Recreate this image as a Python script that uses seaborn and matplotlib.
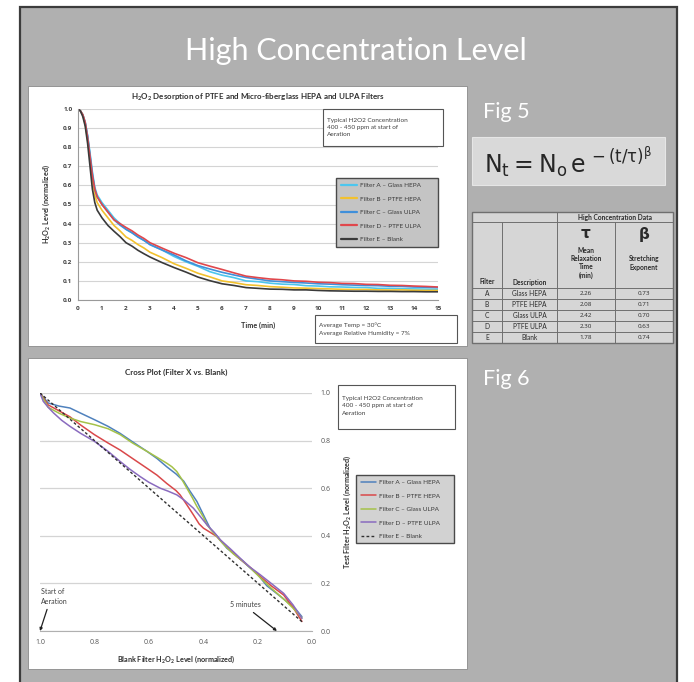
import numpy as np
import pandas as pd
import matplotlib
matplotlib.use("Agg")
import matplotlib.pyplot as plt
import seaborn as sns
from matplotlib.patches import Rectangle

# ---------------- data ----------------
time_min = [0, 0.1, 0.2, 0.3, 0.4, 0.5, 0.6, 0.7, 0.8, 0.9, 1.0, 1.25, 1.5, 1.75, 2.0, 2.25,
            2.5, 2.75, 3.0, 3.5, 4.0, 4.5, 5.0, 5.5, 6.0, 6.5, 7.0, 7.5, 8.0, 8.5, 9.0, 9.5,
            10, 10.5, 11, 11.5, 12, 12.5, 13, 13.5, 14, 14.5, 15]
filter_a = [1.0, 0.99, 0.97, 0.93, 0.86, 0.77, 0.67, 0.59, 0.55, 0.53, 0.51, 0.47, 0.43, 0.40, 0.37, 0.352,
            0.33, 0.312, 0.29, 0.262, 0.228, 0.20, 0.176, 0.148, 0.13, 0.117, 0.10, 0.096, 0.088, 0.083, 0.081, 0.075,
            0.073, 0.069, 0.068, 0.066, 0.065, 0.061, 0.061, 0.059, 0.058, 0.057, 0.056]
filter_b = [1.0, 0.99, 0.97, 0.92, 0.84, 0.74, 0.63, 0.55, 0.51, 0.49, 0.47, 0.43, 0.39, 0.362, 0.33, 0.312,
            0.29, 0.272, 0.25, 0.222, 0.19, 0.166, 0.14, 0.121, 0.10, 0.091, 0.08, 0.076, 0.07, 0.067, 0.063, 0.062,
            0.06, 0.058, 0.056, 0.055, 0.055, 0.053, 0.052, 0.053, 0.051, 0.05, 0.05]
filter_c = [1.0, 0.99, 0.97, 0.93, 0.86, 0.76, 0.66, 0.58, 0.54, 0.52, 0.50, 0.46, 0.42, 0.392, 0.37, 0.352,
            0.33, 0.312, 0.29, 0.262, 0.236, 0.205, 0.18, 0.162, 0.145, 0.131, 0.118, 0.109, 0.10, 0.096, 0.092, 0.089,
            0.085, 0.083, 0.08, 0.078, 0.076, 0.075, 0.072, 0.071, 0.068, 0.067, 0.065]
filter_d = [1.0, 0.99, 0.97, 0.93, 0.85, 0.75, 0.65, 0.58, 0.54, 0.52, 0.50, 0.46, 0.42, 0.40, 0.38, 0.362,
            0.34, 0.322, 0.30, 0.272, 0.245, 0.222, 0.195, 0.177, 0.16, 0.142, 0.125, 0.117, 0.11, 0.106, 0.10, 0.098,
            0.093, 0.091, 0.087, 0.086, 0.082, 0.081, 0.077, 0.076, 0.073, 0.071, 0.068]
filter_e = [1.0, 0.99, 0.96, 0.91, 0.82, 0.70, 0.58, 0.51, 0.47, 0.45, 0.43, 0.39, 0.36, 0.332, 0.30, 0.282,
            0.26, 0.242, 0.225, 0.196, 0.17, 0.146, 0.12, 0.101, 0.085, 0.076, 0.065, 0.061, 0.057, 0.056, 0.053, 0.053,
            0.05, 0.048, 0.047, 0.046, 0.046, 0.045, 0.045, 0.044, 0.044, 0.043, 0.043]

top_labels = ["Filter A \u2013 Glass HEPA", "Filter B \u2013 PTFE HEPA", "Filter C \u2013 Glass ULPA",
              "Filter D \u2013 PTFE ULPA", "Filter E \u2013 Blank"]

# cross plot (blank level -> filter level)
cross_a_x = [1.0, 0.97, 0.93, 0.89, 0.85, 0.80, 0.75, 0.705, 0.66, 0.607, 0.57, 0.534, 0.50, 0.472, 0.45, 0.423,
             0.40, 0.374, 0.35, 0.313, 0.28, 0.24, 0.20, 0.166, 0.13, 0.092, 0.06, 0.037]
cross_a_y = [1.0, 0.958, 0.945, 0.937, 0.915, 0.888, 0.86, 0.83, 0.795, 0.755, 0.725, 0.69, 0.66, 0.63, 0.59, 0.544,
             0.49, 0.43, 0.40, 0.348, 0.318, 0.278, 0.238, 0.19, 0.158, 0.123, 0.092, 0.06]
cross_b_x = [1.0, 0.97, 0.93, 0.89, 0.85, 0.80, 0.75, 0.705, 0.66, 0.607, 0.57, 0.534, 0.50, 0.485, 0.46, 0.436,
             0.415, 0.399, 0.375, 0.35, 0.31, 0.276, 0.23, 0.19, 0.15, 0.104, 0.07, 0.037]
cross_b_y = [1.0, 0.95, 0.925, 0.90, 0.865, 0.825, 0.79, 0.76, 0.725, 0.684, 0.655, 0.62, 0.59, 0.572, 0.53, 0.488,
             0.45, 0.432, 0.415, 0.397, 0.35, 0.313, 0.27, 0.229, 0.19, 0.151, 0.10, 0.04]
cross_c_x = [1.0, 0.97, 0.93, 0.89, 0.85, 0.80, 0.75, 0.705, 0.66, 0.607, 0.57, 0.534, 0.515, 0.497, 0.48, 0.46,
             0.44, 0.423, 0.40, 0.386, 0.36, 0.33, 0.29, 0.25, 0.20, 0.15, 0.10, 0.06, 0.037]
cross_c_y = [1.0, 0.94, 0.915, 0.895, 0.88, 0.867, 0.85, 0.825, 0.79, 0.755, 0.73, 0.705, 0.69, 0.67, 0.64, 0.60,
             0.56, 0.523, 0.48, 0.446, 0.41, 0.37, 0.325, 0.29, 0.235, 0.18, 0.13, 0.085, 0.055]
cross_d_x = [1.0, 0.988, 0.97, 0.95, 0.92, 0.89, 0.85, 0.80, 0.75, 0.705, 0.67, 0.632, 0.60, 0.558, 0.53, 0.497,
             0.47, 0.436, 0.41, 0.386, 0.36, 0.337, 0.30, 0.264, 0.23, 0.19, 0.15, 0.104, 0.07, 0.037]
cross_d_y = [1.0, 0.965, 0.94, 0.916, 0.885, 0.86, 0.83, 0.797, 0.755, 0.712, 0.68, 0.649, 0.625, 0.60, 0.588, 0.572,
             0.55, 0.516, 0.48, 0.446, 0.415, 0.383, 0.345, 0.306, 0.27, 0.236, 0.20, 0.158, 0.11, 0.053]
cross_e_x = [1.0, 0.037]
cross_e_y = [1.0, 0.039]

table_filter = ["A", "B", "C", "D", "E"]
table_desc = ["Glass HEPA", "PTFE HEPA", "Glass ULPA", "PTFE ULPA", "Blank"]
table_tau = ["2.26", "2.08", "2.42", "2.30", "1.78"]
table_beta = ["0.73", "0.71", "0.70", "0.63", "0.74"]

# ---------------- style ----------------
sns.set_style("white")
plt.rcParams['font.family'] = ['Lato', 'DejaVu Sans']
plt.rcParams['axes.unicode_minus'] = False
NUMFONT = ['Open Sans', 'DejaVu Sans']

W, H = 694, 682
fig = plt.figure(figsize=(W / 100, H / 100), dpi=100)
fig.patch.set_facecolor("white")

bg = fig.add_axes([0, 0, 1, 1], zorder=0)
bg.set_xlim(0, W)
bg.set_ylim(H, 0)
bg.axis("off")

SLIDE = "#b0b0b0"
bg.add_patch(Rectangle((20, 7), 657, 690, facecolor=SLIDE, edgecolor="#3c3c3c", lw=1.6))
bg.add_patch(Rectangle((28.5, 85.5), 439, 260, facecolor="white", edgecolor="#8a8a8a", lw=0.6))
bg.add_patch(Rectangle((28.5, 357.5), 439, 311, facecolor="white", edgecolor="#8a8a8a", lw=0.6))

bg.text(356, 51, "High Concentration Level", color="white", fontsize=22, ha="center", va="center")
bg.text(483, 112, "Fig 5", color="white", fontsize=15.5, ha="left", va="center")
bg.text(483, 379, "Fig 6", color="white", fontsize=15.5, ha="left", va="center")

# equation box
bg.add_patch(Rectangle((472, 137), 193, 48, facecolor="#d9d9d9", edgecolor="#e6e6e6", lw=0.8))
bg.text(568, 162, r"$\mathrm{N_t = N_o\,e^{\,-(t/\tau)^{\beta}}}$", fontsize=17, color="#262626",
        ha="center", va="center")

# table
LINE = "#6f6f6f"
tx = [472, 502, 557, 615, 673]
ty = [212, 222, 288, 299, 310, 321, 332, 343]
bg.add_patch(Rectangle((tx[0], ty[0]), tx[-1] - tx[0], ty[-1] - ty[0], facecolor="#d6d6d6",
                       edgecolor=LINE, lw=1.0))
for yy in ty[1:-1]:
    bg.plot([tx[0], tx[-1]], [yy, yy], color=LINE, lw=0.7)
bg.plot([tx[2], tx[2]], [ty[0], ty[-1]], color=LINE, lw=0.7)
for xx in (tx[1], tx[3]):
    bg.plot([xx, xx], [ty[1], ty[-1]], color=LINE, lw=0.7)
TFS = 4.8
TC = "#2a2a2a"
bg.text((tx[2] + tx[4]) / 2, 217.3, "High Concentration Data", fontsize=TFS, fontweight="bold",
        ha="center", va="center", color=TC)
bg.text((tx[0] + tx[1]) / 2, 282, "Filter", fontsize=TFS, fontweight="bold", ha="center", va="center", color=TC)
bg.text((tx[1] + tx[2]) / 2, 282, "Description", fontsize=TFS, fontweight="bold", ha="center", va="center", color=TC)
bg.text((tx[2] + tx[3]) / 2, 234, "\u03c4", fontsize=11, fontweight="bold", ha="center", va="center",
        color=TC, family="DejaVu Sans")
bg.text((tx[2] + tx[3]) / 2, 263, "Mean\nRelaxation\nTime\n(min)", fontsize=TFS, fontweight="bold",
        ha="center", va="center", color=TC, linespacing=1.2)
bg.text((tx[3] + tx[4]) / 2, 234, "\u03b2", fontsize=11, fontweight="bold", ha="center", va="center",
        color=TC, family="DejaVu Sans")
bg.text((tx[3] + tx[4]) / 2, 263, "Stretching\nExponent", fontsize=TFS, fontweight="bold",
        ha="center", va="center", color=TC, linespacing=1.2)
for i in range(5):
    yc = (ty[2 + i] + ty[3 + i]) / 2
    for j, val in enumerate((table_filter[i], table_desc[i], table_tau[i], table_beta[i])):
        fam = NUMFONT if j >= 2 else None
        bg.text((tx[j] + tx[j + 1]) / 2, yc, val, fontsize=4.5 if j >= 2 else TFS, ha="center",
                va="center", color=TC, family=fam)


def fig_rect(x0, y0, x1, y1):
    return [x0 / W, 1 - y1 / H, (x1 - x0) / W, (y1 - y0) / H]


TICKC = "#404040"
GRID = "#d4d4d4"
H2O2 = r"H$_\mathregular{2}$O$_\mathregular{2}$"

# ---------------- Fig 5 ----------------
ax1 = fig.add_axes(fig_rect(78, 109, 438, 300), zorder=2)
ax1.set_facecolor("white")
top_series = [filter_a, filter_b, filter_c, filter_d, filter_e]
top_colors = ["#4cc6ee", "#f2c12e", "#3f8fda", "#e0474c", "#3a3a3a"]
for vals, lab, col in zip(top_series, top_labels, top_colors):
    df = pd.DataFrame({"t": time_min, "v": vals})
    sns.lineplot(data=df, x="t", y="v", ax=ax1, color=col, lw=1.2, label=lab, sort=False, estimator=None)
ax1.set_xlim(0, 15)
ax1.set_ylim(0, 1.0)
ax1.set_xticks(range(0, 16))
ax1.set_yticks(np.round(np.arange(0, 1.01, 0.1), 1))
ax1.set_yticklabels([f"{v:.1f}" for v in np.arange(0, 1.01, 0.1)])
ax1.tick_params(labelsize=4.6, colors=TICKC, length=0, pad=4)
for lbl in ax1.get_xticklabels() + ax1.get_yticklabels():
    lbl.set_fontweight("bold")
    lbl.set_family(NUMFONT)
ax1.yaxis.grid(True, color=GRID, lw=0.8)
ax1.xaxis.grid(False)
for s in ("top", "right"):
    ax1.spines[s].set_visible(False)
for s in ("left", "bottom"):
    ax1.spines[s].set_color("#9a9a9a")
    ax1.spines[s].set_linewidth(0.8)
ax1.set_xlabel("Time (min)", fontsize=5.2, fontweight="bold", color="#303030", labelpad=8)
ax1.set_ylabel(H2O2 + " Level (normalized)", fontsize=5.2, fontweight="bold", color="#303030", labelpad=8)
ax1.set_title(H2O2 + " Desorption of PTFE and Micro-fiberglass HEPA and ULPA Filters", fontsize=5.8,
              fontweight="bold", color="#303030", pad=7)
leg1 = ax1.legend(loc="upper left", bbox_to_anchor=(0.708, 0.23, 0.3, 0.424), mode="expand",
                  fontsize=4.6, frameon=True, fancybox=False, handlelength=2.6, labelspacing=1.25,
                  borderpad=0.7, handletextpad=0.5)
leg1.get_frame().set_facecolor("#c4c4c4")
leg1.get_frame().set_edgecolor("#4a4a4a")
leg1.get_frame().set_alpha(1)
for t in leg1.get_texts():
    t.set_color("#3a3a3a")
for ln in leg1.get_lines():
    ln.set_linewidth(1.6)

ax1.add_patch(Rectangle((323, 109), 120, 37, transform=bg.transData, facecolor="white",
                        edgecolor="#555555", lw=0.8, clip_on=False, zorder=6))
ax1.text(327, 127.5, "Typical H2O2 Concentration\n400 - 450 ppm at start of\nAeration", transform=bg.transData,
         fontsize=4.6, color="#404040", ha="left", va="center", linespacing=1.6, zorder=7)
ax1.add_patch(Rectangle((315, 315), 142, 28, transform=bg.transData, facecolor="white",
                        edgecolor="#555555", lw=0.8, clip_on=False, zorder=6))
ax1.text(319, 329, "Average Temp = 30\u00b0C\nAverage Relative Humidity = 7%", transform=bg.transData,
         fontsize=4.6, color="#404040", ha="left", va="center", linespacing=1.6, zorder=7)

# ---------------- Fig 6 ----------------
ax2 = fig.add_axes(fig_rect(40, 393, 312, 631), zorder=2)
ax2.set_facecolor("white")
cross = [(cross_a_x, cross_a_y), (cross_b_x, cross_b_y), (cross_c_x, cross_c_y), (cross_d_x, cross_d_y)]
cross_colors = ["#4f81bd", "#d9484a", "#a5c249", "#8a6bbf"]
for (xs, ys), lab, col in zip(cross, top_labels[:4], cross_colors):
    df = pd.DataFrame({"b": xs, "f": ys})
    sns.lineplot(data=df, x="b", y="f", ax=ax2, color=col, lw=1.1, label=lab, sort=False, estimator=None)
dfe = pd.DataFrame({"b": cross_e_x, "f": cross_e_y})
sns.lineplot(data=dfe, x="b", y="f", ax=ax2, color="#303030", lw=1.0, linestyle=(0, (2, 1.6)),
             label=top_labels[4], sort=False, estimator=None)
ax2.set_xlim(1.0, 0.0)
ax2.set_ylim(0, 1.0)
ax2.set_xticks(np.round(np.arange(0, 1.01, 0.2), 1))
ax2.set_xticklabels([f"{v:.1f}" for v in np.arange(0, 1.01, 0.2)])
ax2.set_yticks(np.round(np.arange(0, 1.01, 0.2), 1))
ax2.set_yticklabels([f"{v:.1f}" for v in np.arange(0, 1.01, 0.2)])
ax2.yaxis.tick_right()
ax2.yaxis.set_label_position("right")
ax2.tick_params(labelsize=5, colors="#555555", length=0, pad=6)
for lbl in ax2.get_xticklabels() + ax2.get_yticklabels():
    lbl.set_family(NUMFONT)
ax2.yaxis.grid(True, color=GRID, lw=0.9)
ax2.xaxis.grid(False)
for s in ("top", "left", "right"):
    ax2.spines[s].set_visible(False)
ax2.spines["bottom"].set_color("#b0b0b0")
ax2.spines["bottom"].set_linewidth(0.8)
ax2.set_xlabel("Blank Filter " + H2O2 + " Level (normalized)", fontsize=5.2, fontweight="bold",
               color="#303030", labelpad=5)
ax2.set_ylabel("Test Filter " + H2O2 + " Level (normalized)", fontsize=5.2, fontweight="bold",
               color="#303030", labelpad=8)
ax2.set_title("Cross Plot (Filter X vs. Blank)", fontsize=5.8, fontweight="bold", color="#303030", pad=13)
leg2 = ax2.legend(loc="upper left", bbox_to_anchor=(1.151, 0.332, 0.382, 0.336), mode="expand",
                  fontsize=4.6, frameon=True, fancybox=False, handlelength=2.4, labelspacing=1.25,
                  borderpad=0.7, handletextpad=0.5)
leg2.get_frame().set_facecolor("#d2d2d2")
leg2.get_frame().set_edgecolor("#4a4a4a")
leg2.get_frame().set_alpha(1)
for t in leg2.get_texts():
    t.set_color("#3a3a3a")

ax2.add_patch(Rectangle((338, 385), 117, 44, transform=bg.transData, facecolor="white",
                        edgecolor="#555555", lw=0.8, clip_on=False, zorder=6))
ax2.text(342, 406, "Typical H2O2 Concentration\n400 - 450 ppm at start of\nAeration", transform=bg.transData,
         fontsize=4.6, color="#404040", ha="left", va="center", linespacing=1.6, zorder=7)

ax2.annotate("Start of\nAeration", xy=(1.0, 0.0), xytext=(0.998, 0.11), fontsize=5, color="#404040",
             ha="left", va="bottom", linespacing=1.5, annotation_clip=False,
             arrowprops=dict(arrowstyle="-|>", color="#202020", lw=0.9, mutation_scale=4,
                             shrinkA=1, shrinkB=0, relpos=(0.3, 0)))
ax2.annotate("5 minutes", xy=(0.129, 0.0), xytext=(0.246, 0.095), fontsize=5, color="#404040",
             ha="center", va="bottom", annotation_clip=False,
             arrowprops=dict(arrowstyle="-|>", color="#202020", lw=0.9, mutation_scale=4,
                             shrinkA=1, shrinkB=0, relpos=(0.6, 0)))

fig.savefig("out.png", dpi=100, facecolor="white")
